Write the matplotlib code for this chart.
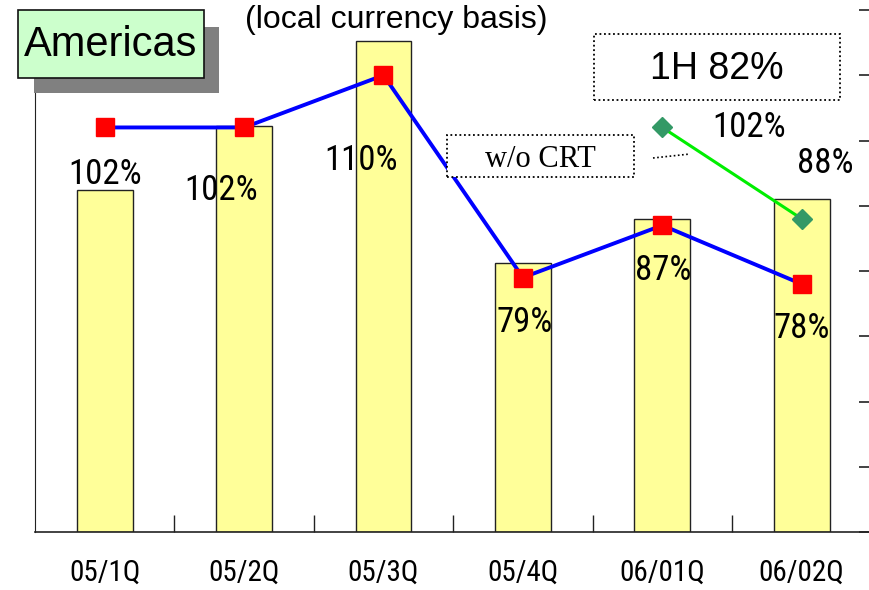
import matplotlib
matplotlib.use("Agg")
import matplotlib.pyplot as plt
from matplotlib.patches import Rectangle
from matplotlib.lines import Line2D

# данные
quarters = ["05/1Q", "05/2Q", "05/3Q", "05/4Q", "06/01Q", "06/02Q"]
sales = [65.5, 77.8, 94.1, 51.5, 60.0, 63.8]          # столбцы (левая ось, без подписей)
ratio = [102, 102, 110, 79, 87, 78]                   # % (правая ось)
ratio_wo_crt = [102, 88]                              # % без CRT, только 06/01Q и 06/02Q
wo_idx = [4, 5]

W, H = 870, 590
fig = plt.figure(figsize=(W / 100, H / 100), dpi=100)


def fx(px):
    return px / W


def fy(py):
    return 1 - py / H


narrow = ["Roboto Condensed", "DejaVu Sans"]

ax = fig.add_axes([fx(35), fy(532), fx(870) - fx(35), fy(10) - fy(532)])
x = list(range(len(quarters)))
ax.bar(x, sales, width=0.4, color="#FFFF99", edgecolor="#222222", linewidth=1.0, zorder=2)
ax.set_xlim(-0.5, 5.49)
ax.set_ylim(0, 100)
ax.set_yticks([])
ax.set_xticks([i + 0.5 for i in range(5)])
ax.set_xticklabels([])
ax.set_xticks(x, minor=True)
ax.set_xticklabels(quarters, minor=True, fontsize=21, family=narrow)
ax.tick_params(axis="x", which="major", direction="in", length=12, width=1, color="#222222")
ax.tick_params(axis="x", which="minor", length=0, pad=19)
for s in ["top", "right"]:
    ax.spines[s].set_visible(False)
ax.spines["left"].set_color("#222222")
ax.spines["bottom"].set_color("#222222")
ax.spines["bottom"].set_linewidth(1.2)

ax2 = ax.twinx()
ax2.set_ylim(40, 120)
ax2.set_yticks(range(40, 121, 10))
ax2.set_yticklabels([])
ax2.tick_params(axis="y", direction="in", length=8, width=1.2, color="#222222")
for s in ["top", "left", "bottom", "right"]:
    ax2.spines[s].set_visible(False)

ax2.plot(x, ratio, color="#0000FF", lw=2.8, marker="s", ms=13, mfc="#FF0000",
         mec="#FF0000", zorder=3)
ax2.plot(wo_idx, ratio_wo_crt, color="#00EE00", lw=2.2, marker="D", ms=10,
         mfc="#339966", mec="#339966", zorder=3)

# подписи процентов (смещения в пикселях от маркера)
offs = [(0, -47), (-23, -63), (-22, -85), (2, -45), (1, -45), (0, -44)]
for i, v in enumerate(ratio):
    ax2.annotate(f"{v}%", (i, v), xytext=offs[i], textcoords="offset pixels",
                 ha="center", va="center", fontsize=25, family=narrow, zorder=5)
offs2 = [(87, 0), (24, 55)]
for k, i in enumerate(wo_idx):
    v = ratio_wo_crt[k]
    ax2.annotate(f"{v}%", (i, v), xytext=offs2[k], textcoords="offset pixels",
                 ha="center", va="center", fontsize=25, family=narrow, zorder=5)

# плашка "Americas" с тенью
fig.add_artist(Rectangle((fx(34), fy(93)), fx(219) - fx(34), fy(27) - fy(93),
                         transform=fig.transFigure, facecolor="#808080", edgecolor="none", zorder=4))
fig.add_artist(Rectangle((fx(18), fy(78)), fx(204) - fx(18), fy(10) - fy(78),
                         transform=fig.transFigure, facecolor="#CCFFCC", edgecolor="#111111",
                         linewidth=1.2, zorder=5))
fig.text(fx(111), fy(45), "Americas", ha="center", va="center", fontsize=30,
         family="Liberation Sans", zorder=6)

fig.text(fx(396), fy(20), "(local currency basis)", ha="center", va="center",
         fontsize=23, family="Liberation Sans")

# "1H 82%" в пунктирной рамке
fig.add_artist(Rectangle((fx(594), fy(100)), fx(840) - fx(594), fy(34) - fy(100),
                         transform=fig.transFigure, facecolor="white", edgecolor="black",
                         linewidth=1.3, linestyle=(0, (1, 1.5)), zorder=5))
fig.text(fx(717), fy(69), "1H 82%", ha="center", va="center", fontsize=27,
         family="Liberation Sans", zorder=6)

# "w/o CRT"
fig.add_artist(Rectangle((fx(447), fy(177)), fx(634) - fx(447), fy(135) - fy(177),
                         transform=fig.transFigure, facecolor="white", edgecolor="black",
                         linewidth=1.3, linestyle=(0, (1, 1.5)), zorder=5))
fig.text(fx(540), fy(160), "w/o CRT", ha="center", va="center", fontsize=22,
         family="Liberation Serif", zorder=6)
fig.add_artist(Line2D([fx(653), fx(690)], [fy(158), fy(154)], transform=fig.transFigure,
                      color="black", linewidth=1.2, linestyle=(0, (1, 1.5)), zorder=5))

fig.savefig("out.png", dpi=100)
